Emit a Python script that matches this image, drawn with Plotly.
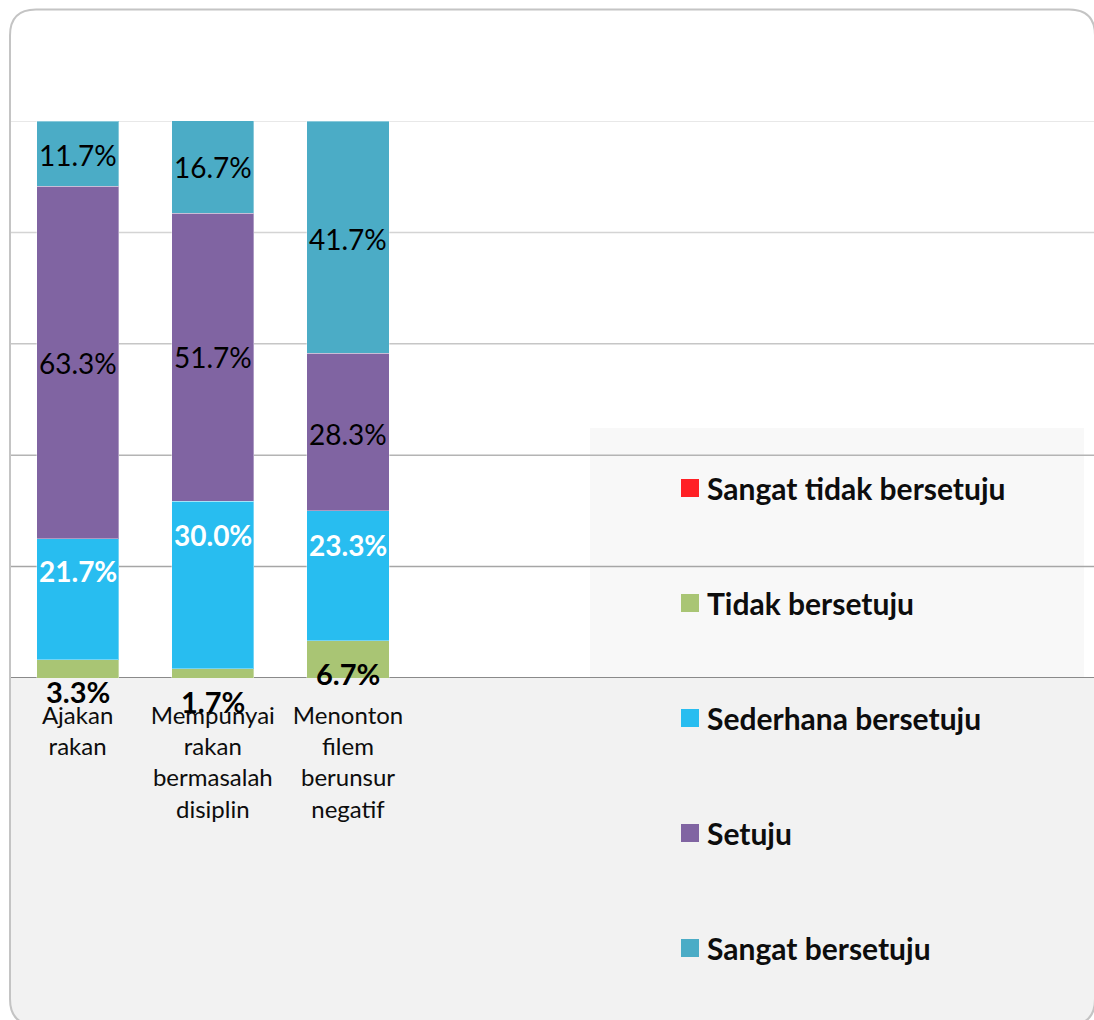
import plotly.graph_objects as go

# ---------------- data ----------------
categories = [
    "Ajakan<br>rakan",
    "Mempunyai<br>rakan<br>bermasalah<br>disiplin",
    "Menonton<br>filem<br>berunsur<br>negatif",
]
series_names = [
    "Sangat tidak bersetuju",
    "Tidak bersetuju",
    "Sederhana bersetuju",
    "Setuju",
    "Sangat bersetuju",
]
sangat_tidak_bersetuju = [0.0, 0.0, 0.0]
tidak_bersetuju = [3.3, 1.7, 6.7]
sederhana_bersetuju = [21.7, 30.0, 23.3]
setuju = [63.3, 51.7, 28.3]
sangat_bersetuju = [11.7, 16.7, 41.7]
y_ticks = [0, 20, 40, 60, 80, 100]

series_values = [sangat_tidak_bersetuju, tidak_bersetuju, sederhana_bersetuju,
                 setuju, sangat_bersetuju]

# ---------------- style ----------------
colors = ["#FF2025", "#A9C574", "#28BDF0", "#8064A2", "#4BACC6"]
FONT = "Lato"
W, H = 1094, 1020
L, T, BOT = 10, 121, 678          # plot area pixel edges
R = W
PW, PH = R - L, BOT - T
label_styles = [
    None,
    dict(size=29, color="#000000", bold=True, shifts=[-23, -28, -14]),
    dict(size=28, color="#FFFFFF", bold=True, shifts=[28, 50, 31]),
    dict(size=28, color="#000000", bold=False, shifts=[-1, 0, -2]),
    dict(size=28, color="#000000", bold=False, shifts=[-1, 0, -2]),
]
grid_colors = ["#8a8a8a", "#a6a6a6", "#b4b4b4", "#c6c6c6", "#d4d4d4", "#e0e0e0"]


def px(x):
    return (x - L) / PW


def py(y):
    return (BOT - y) / PH


fig = go.Figure()
for name, vals, col in zip(series_names, series_values, colors):
    fig.add_trace(go.Bar(
        x=categories, y=vals, name=name,
        marker=dict(color=col, line=dict(color="rgba(255,255,255,0.35)", width=1)),
        showlegend=False, hoverinfo="skip",
    ))

# data labels
annotations = []
base = [0.0] * len(categories)
for si, vals in enumerate(series_values):
    st = label_styles[si]
    for ci, v in enumerate(vals):
        if st is not None and v > 0:
            txt = f"{v:.1f}%"
            if st["bold"]:
                txt = f"<b>{txt}</b>"
            annotations.append(dict(
                x=categories[ci], y=base[ci] + v / 2, xref="x", yref="y",
                text=txt, showarrow=False, yshift=st["shifts"][ci],
                font=dict(family=FONT, size=st["size"], color=st["color"]),
                xanchor="center", yanchor="middle",
            ))
        base[ci] += v

# ---------------- decoration shapes ----------------
shapes = []


def rounded_path(x0, y0, x1, y1, r, round_top=True):
    parts = []
    if round_top:
        parts.append(f"M {px(x0)},{py(y0 + r)} Q {px(x0)},{py(y0)} {px(x0 + r)},{py(y0)}")
        parts.append(f"L {px(x1 - r)},{py(y0)} Q {px(x1)},{py(y0)} {px(x1)},{py(y0 + r)}")
    else:
        parts.append(f"M {px(x0)},{py(y0)} L {px(x1)},{py(y0)}")
    parts.append(f"L {px(x1)},{py(y1 - r)} Q {px(x1)},{py(y1)} {px(x1 - r)},{py(y1)}")
    parts.append(f"L {px(x0 + r)},{py(y1)} Q {px(x0)},{py(y1)} {px(x0)},{py(y1 - r)} Z")
    return " ".join(parts)


# grey lower area
shapes.append(dict(type="path", xref="paper", yref="paper", layer="below",
                   path=rounded_path(10, BOT, 1095, 1025, 25, round_top=False),
                   fillcolor="#F2F2F2", line=dict(width=0)))
# legend background
shapes.append(dict(type="rect", xref="paper", yref="paper", layer="below",
                   x0=px(590), x1=px(1084), y0=py(428), y1=py(BOT),
                   fillcolor="#F8F8F8", line=dict(width=0)))
# gridlines
for tv, gc in zip(y_ticks, grid_colors):
    shapes.append(dict(type="line", xref="paper", yref="y", layer="below",
                       x0=0, x1=1, y0=tv, y1=tv,
                       line=dict(color=gc, width=2 if tv == 0 else 1.5)))
# outer rounded border
shapes.append(dict(type="path", xref="paper", yref="paper", layer="above",
                   path=rounded_path(10, 9.5, 1095, 1025, 26),
                   fillcolor="rgba(0,0,0,0)", line=dict(color="#C4C4C4", width=2)))

# manual legend
for i, (name, col) in enumerate(zip(series_names, colors)):
    cy = 488 + i * 115
    shapes.append(dict(type="rect", xref="paper", yref="paper", layer="above",
                       x0=px(681), x1=px(699), y0=py(cy - 9), y1=py(cy + 9),
                       fillcolor=col, line=dict(width=0)))
    annotations.append(dict(
        x=px(705), y=py(cy), xref="paper", yref="paper",
        text=f"<b>{name}</b>", showarrow=False, xanchor="left", yanchor="middle",
        font=dict(family=FONT, size=30, color="#0D0D0D"),
    ))

fig.update_layout(
    width=W, height=H,
    margin=dict(l=L, r=0, t=T, b=H - BOT, autoexpand=False),
    paper_bgcolor="#FFFFFF", plot_bgcolor="rgba(0,0,0,0)",
    barmode="stack", bargap=0.393,
    showlegend=False,
    font=dict(family=FONT, color="#000000"),
    shapes=shapes, annotations=annotations,
)
fig.update_xaxes(
    type="category", range=[-0.5, -0.5 + PW / 135.2],
    showgrid=False, zeroline=False, showline=False, ticks="",
    tickfont=dict(family=FONT, size=24, color="#0D0D0D"),
    ticklabelstandoff=21, automargin=False,
)
fig.update_yaxes(
    range=[0, 100], tickvals=y_ticks, showticklabels=False,
    showgrid=False, zeroline=False, showline=False, automargin=False,
)

fig.write_html(
    "out.html",
    config={"displayModeBar": False},
    post_script="document.body.style.margin='0';document.body.style.padding='0';",
)
